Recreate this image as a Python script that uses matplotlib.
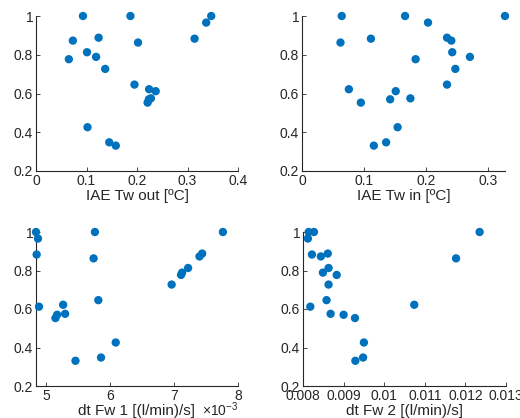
import numpy as np
import matplotlib
matplotlib.use("Agg")
import matplotlib.pyplot as plt
from matplotlib.ticker import FuncFormatter

# --- datos ---
y_vals = [1.0, 1.0, 1.0, 0.966, 0.888, 0.883, 0.873, 0.863, 0.813, 0.789, 0.777,
          0.727, 0.646, 0.622, 0.612, 0.575, 0.570, 0.553, 0.426, 0.348, 0.331]

iae_tw_out = [0.093, 0.187, 0.347, 0.337, 0.124, 0.314, 0.073, 0.202, 0.101, 0.119, 0.065,
              0.137, 0.195, 0.224, 0.237, 0.2275, 0.2235, 0.221, 0.102, 0.145, 0.158]

iae_tw_in = [0.064, 0.166, 0.327, 0.203, 0.2336, 0.111, 0.2405, 0.062, 0.242, 0.2705, 0.183,
             0.247, 0.2336, 0.0755, 0.151, 0.1746, 0.142, 0.0948, 0.154, 0.1355, 0.1157]

dt_fw1 = [4.843e-3, 5.764e-3, 7.764e-3, 4.874e-3, 7.44e-3, 4.853e-3, 7.398e-3, 5.743e-3,
          7.22e-3, 7.126e-3, 7.11e-3, 6.963e-3, 5.817e-3, 5.267e-3, 4.89e-3, 5.298e-3,
          5.173e-3, 5.147e-3, 6.089e-3, 5.859e-3, 5.46e-3]

dt_fw2 = [0.00814, 0.00827, 0.01235, 0.00812, 0.00861, 0.00822, 0.00844, 0.01177,
          0.00863, 0.00849, 0.00883, 0.00863, 0.00858, 0.01074, 0.00818, 0.00868,
          0.00900, 0.00928, 0.00950, 0.00948, 0.00929]

labels = ["IAE Tw out [ºC]", "IAE Tw in [ºC]", "dt Fw 1 [(l/min)/s]", "dt Fw 2 [(l/min)/s]"]
xlims = [(0, 0.4), (0, 0.327), (4.843e-3, 8e-3), (0.008, 0.013)]
xticks = [[0, 0.1, 0.2, 0.3, 0.4], [0, 0.1, 0.2, 0.3],
          [5e-3, 6e-3, 7e-3, 8e-3], [0.008, 0.009, 0.01, 0.011, 0.012, 0.013]]
yticks = [0.2, 0.4, 0.6, 0.8, 1.0]

# --- estilo tipo MATLAB ---
plt.rcParams['font.family'] = ['Liberation Sans', 'DejaVu Sans']
plt.rcParams['mathtext.fontset'] = 'custom'
plt.rcParams['mathtext.rm'] = 'Liberation Sans'
plt.rcParams['font.size'] = 10
gris = '#262626'
azul = '#0072BD'

fig = plt.figure(figsize=(5.2, 4.18), dpi=100)
W, H = 520, 418
pos = [(36, 16, 202, 155), (302, 16, 203, 155),
       (36, 232, 202, 154), (303, 232, 203, 154)]

xdata = [iae_tw_out, iae_tw_in, dt_fw1, dt_fw2]

for i in range(4):
    l, t, w, h = pos[i]
    ax = fig.add_axes([l / W, (H - t - h) / H, w / W, h / H])
    ax.scatter(xdata[i], y_vals, s=36, color=azul, edgecolors='none', zorder=3,
               clip_on=False)
    ax.set_xlim(*xlims[i])
    ax.set_ylim(0.2, 1.0)
    ax.set_xticks(xticks[i])
    ax.set_yticks(yticks)
    ax.yaxis.set_major_formatter(FuncFormatter(lambda v, p: f"{v:g}"))
    if i == 2:
        ax.xaxis.set_major_formatter(FuncFormatter(lambda v, p: f"{v*1e3:g}"))
        # exponente estilo MATLAB
        ax.text(1.0, -30 / h, r"$\times\mathrm{10}^{\mathrm{-3}}$", transform=ax.transAxes,
                ha='right', va='baseline', color=gris, fontsize=10)
    else:
        ax.xaxis.set_major_formatter(FuncFormatter(lambda v, p: f"{v:g}"))
    ax.set_xlabel(labels[i], color=gris, fontsize=11, labelpad=1)
    for s in ['top', 'right']:
        ax.spines[s].set_visible(False)
    for s in ['left', 'bottom']:
        ax.spines[s].set_color(gris)
        ax.spines[s].set_linewidth(0.8)
    ax.tick_params(direction='in', length=3, width=0.6, colors=gris,
                   labelsize=10, pad=2)

fig.savefig("out.png", dpi=100)
